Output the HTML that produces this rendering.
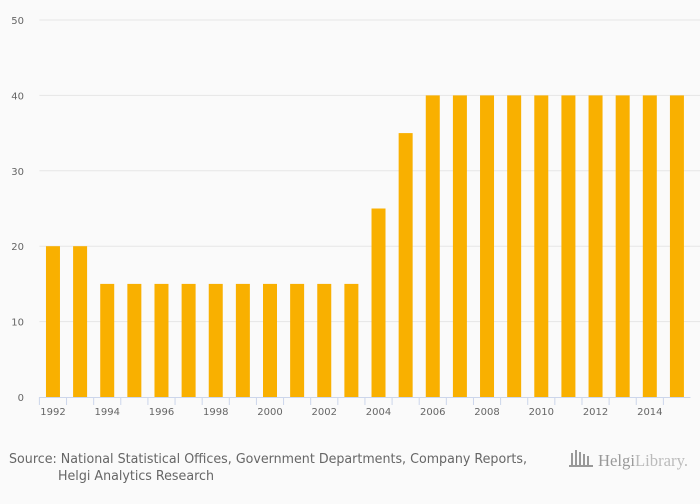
<!DOCTYPE html>
<html><head><meta charset="utf-8"><style>
body{margin:0;background:#fafafa;font-family:"DejaVu Sans",sans-serif;}
svg text{font-family:"DejaVu Sans",sans-serif;}
</style></head><body>
<svg width="700" height="500" id="c">
<rect width="700" height="500" fill="#fafafa"/>
<g id="grid"></g><g id="bars"></g><g id="xaxis"></g>
<text x="9" y="463" font-size="13" fill="#666" textLength="518" lengthAdjust="spacingAndGlyphs">Source: National Statistical Offices, Government Departments, Company Reports,</text>
<text x="58" y="480" font-size="13" fill="#666" textLength="156" lengthAdjust="spacingAndGlyphs">Helgi Analytics Research</text>
<g>
<g fill="#999"><rect x="571" y="453" width="2" height="14"/><rect x="575" y="450" width="2" height="17"/><rect x="579" y="452" width="2" height="15"/><rect x="583" y="454" width="2" height="13"/><rect x="587" y="456" width="2" height="11"/><rect x="569" y="465" width="24" height="2"/></g>
<text x="598" y="466" font-size="17" fill="#999" textLength="90" lengthAdjust="spacingAndGlyphs" style="font-family:'Liberation Serif',serif">Helgi<tspan fill="#bbb">Library.</tspan></text>
</g>
</svg>
<script>
const years=[1992,1993,1994,1995,1996,1997,1998,1999,2000,2001,2002,2003,2004,2005,2006,2007,2008,2009,2010,2011,2012,2013,2014,2015];
const values=[20,20,15,15,15,15,15,15,15,15,15,15,25,35,40,40,40,40,40,40,40,40,40,40];
const yTicks=[0,10,20,30,40,50];
const NS="http://www.w3.org/2000/svg";
const x0=39.4,x1=690.5,y0=397,yTop=20,yMax=50;
const step=(x1-x0)/years.length;
const y=v=>y0-(v/yMax)*(y0-yTop);
function mk(t,a,p){const e=document.createElementNS(NS,t);for(const k in a)e.setAttribute(k,a[k]);p.appendChild(e);return e;}
const grid=document.getElementById('grid'),bars=document.getElementById('bars'),xa=document.getElementById('xaxis');
yTicks.forEach(t=>{
 if(t>0){const l=mk('line',{x1:x0,x2:700,y1:y(t),y2:y(t),stroke:'#e6e6e6'},grid);
 
 }
 const tx=mk('text',{x:24,y:y(t)+4,'font-size':10,fill:'#666','text-anchor':'end'},grid);tx.textContent=t;
 
 
});
years.forEach((yr,i)=>{
 const cx=x0+step*(i+0.5);
 const r=mk('rect',{x:cx-7,y:y(values[i]),width:14,height:y0-y(values[i]),fill:'#f9b000'},bars);
 
 
 const tk=mk('line',{x1:x0+step*i,x2:x0+step*i,y1:y0,y2:y0+8,stroke:'#ccd6eb'},xa);
 
 
 if(i%2===0){const t=mk('text',{x:cx,y:y0+18,'font-size':10,fill:'#666','text-anchor':'middle'},xa);t.textContent=yr;
 
 }
});
const ax=mk('line',{x1:x0,x2:x1,y1:y0+0.5,y2:y0+0.5,stroke:'#ccd6eb'},xa);


</script>
</body></html>
